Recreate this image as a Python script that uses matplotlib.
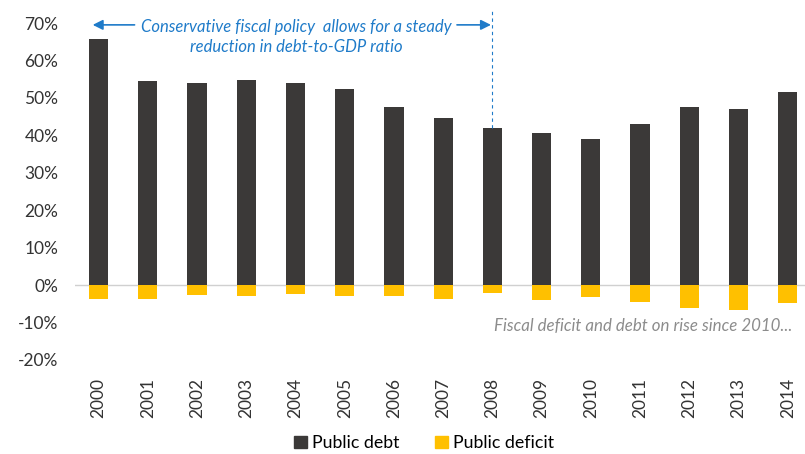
import matplotlib.pyplot as plt
from matplotlib.patches import Patch
from matplotlib.ticker import FuncFormatter

years = ["2000", "2001", "2002", "2003", "2004", "2005", "2006", "2007",
         "2008", "2009", "2010", "2011", "2012", "2013", "2014"]
public_debt = [65.8, 54.6, 54.1, 54.9, 54.1, 52.3, 47.7, 44.6,
               41.9, 40.6, 39.0, 43.0, 47.5, 46.9, 51.5]
public_deficit = [-3.6, -3.6, -2.6, -3.0, -2.5, -3.0, -3.0, -3.6,
                  -2.1, -4.0, -3.3, -4.5, -6.1, -6.7, -4.9]

DEBT_COLOR = "#3b3938"
DEFICIT_COLOR = "#ffc000"
NOTE_BLUE = "#1f7bc9"

plt.rcParams["font.family"] = ["Lato", "DejaVu Sans"]

fig = plt.figure(figsize=(8.05, 4.54), dpi=100)
ax = fig.add_axes([75 / 805, 94 / 454, 730 / 805, 337 / 454])

x = range(len(years))
ax.bar(x, public_debt, width=0.39, color=DEBT_COLOR, label="Public debt")
ax.bar(x, public_deficit, width=0.39, color=DEFICIT_COLOR, label="Public deficit")
ax.axhline(0, color="#d0d0d0", lw=1, zorder=0.5)

ax.set_ylim(-20, 70)
ax.set_xlim(-0.48, 14.35)
ax.set_yticks(range(-20, 71, 10))
ax.yaxis.set_major_formatter(FuncFormatter(lambda v, _: f"{v:.0f}%"))
ax.set_xticks(list(x))
ax.set_xticklabels(years, rotation=90)
ax.tick_params(axis="both", length=0, labelsize=12.5, colors="#333333")
ax.tick_params(axis="x", pad=13)
ax.tick_params(axis="y", pad=12)
for s in ax.spines.values():
    s.set_visible(False)

# dashed marker at 2008 with arrows spanning 2000-2008
ax.plot([8, 8], [public_debt[8], 73.5], ls=(0, (3, 3)), color=NOTE_BLUE,
        lw=0.8, clip_on=False)
arrow_y = 69.5
arrow_kw = dict(arrowstyle="-|>", color=NOTE_BLUE, lw=1.2,
                mutation_scale=15, shrinkA=0, shrinkB=0)
ax.annotate("", xy=(-0.12, arrow_y), xytext=(0.73, arrow_y),
            arrowprops=arrow_kw, annotation_clip=False)
ax.annotate("", xy=(7.97, arrow_y), xytext=(7.28, arrow_y),
            arrowprops=arrow_kw, annotation_clip=False)
ax.text(4.02, arrow_y + 1.7,
        "Conservative fiscal policy  allows for a steady\nreduction in debt-to-GDP ratio",
        ha="center", va="top", color=NOTE_BLUE, fontsize=12.0, style="italic",
        linespacing=1.35)

ax.text(14.1, -11, "Fiscal deficit and debt on rise since 2010...",
        ha="right", va="center", color="#8c8c8c", fontsize=12.2, style="italic")

handles = [Patch(color=DEBT_COLOR), Patch(color=DEFICIT_COLOR)]
fig.legend(handles, ["Public debt", "Public deficit"], loc="center",
           bbox_to_anchor=(0.527, 1 - 443 / 454), ncol=2, frameon=False,
           fontsize=12.8, handlelength=0.7, handleheight=0.7,
           handletextpad=0.3, columnspacing=2.0)

fig.savefig("out.png", dpi=100)
